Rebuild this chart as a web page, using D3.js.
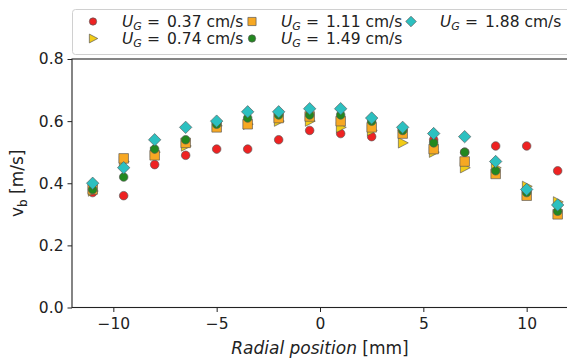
<!DOCTYPE html>
<html><head><meta charset="utf-8">
<script src="https://d3js.org/d3.v7.min.js"></script>
<style>body{margin:0;background:#fff}svg{display:block;font-family:"DejaVu Sans",sans-serif}</style>
</head><body>
<svg id="c" width="567" height="358"></svg>
<script>
const radial = [-11, -9.5, -8, -6.5, -5, -3.5, -2, -0.5, 1, 2.5, 4, 5.5, 7, 8.5, 10, 11.5];
const ug037 = [0.37, 0.36, 0.46, 0.49, 0.51, 0.51, 0.54, 0.57, 0.56, 0.55, 0.57, 0.54, 0.50, 0.52, 0.52, 0.44];
const ug074 = [0.375, 0.47, 0.50, 0.52, 0.585, 0.59, 0.60, 0.60, 0.58, 0.57, 0.53, 0.50, 0.45, 0.45, 0.39, 0.34];
const ug111 = [0.38, 0.48, 0.49, 0.53, 0.58, 0.59, 0.61, 0.615, 0.60, 0.58, 0.56, 0.51, 0.47, 0.43, 0.36, 0.30];
const ug149 = [0.38, 0.42, 0.51, 0.54, 0.59, 0.61, 0.62, 0.62, 0.62, 0.60, 0.57, 0.53, 0.50, 0.44, 0.37, 0.31];
const ug188 = [0.40, 0.45, 0.54, 0.58, 0.60, 0.63, 0.63, 0.64, 0.64, 0.61, 0.58, 0.56, 0.55, 0.47, 0.38, 0.33];
const seriesLabels = ["0.37", "0.74", "1.11", "1.49", "1.88"];
const xTicks = [-10, -5, 0, 5, 10];
const yTicks = [0.0, 0.2, 0.4, 0.6, 0.8];

const series = [
  {label: seriesLabels[0], vals: ug037, shape: "circle", color: "#ee2222"},
  {label: seriesLabels[1], vals: ug074, shape: "triangle", color: "#f2cc17"},
  {label: seriesLabels[2], vals: ug111, shape: "square", color: "#f7a823"},
  {label: seriesLabels[3], vals: ug149, shape: "circle", color: "#22881f"},
  {label: seriesLabels[4], vals: ug188, shape: "diamond", color: "#2cc0c0"}
];

const svg = d3.select("#c");
const L = 72, R = 568, T = 59, B = 307.5;
const x = d3.scaleLinear().domain([-12, 12]).range([L, R]);
const y = d3.scaleLinear().domain([0, 0.8]).range([B, T]);

function shapePath(s) {
  if (s === "circle") return d3.symbol(d3.symbolCircle, 58)();
  if (s === "square") return "M-4.8,-4.8H4.8V4.8H-4.8Z";
  if (s === "diamond") return "M0,-6.2L6.2,0L0,6.2L-6.2,0Z";
  if (s === "triangle") return "M-4.3,-5.2L5.6,0L-4.3,5.2Z";
}

// axes
const gx = svg.append("g").attr("transform", `translate(0,${B})`)
  .call(d3.axisBottom(x).tickValues(xTicks).tickSize(4.5).tickPadding(6)
    .tickFormat(d => d < 0 ? "\u2212" + Math.abs(d) : d));
const gy = svg.append("g").attr("transform", `translate(${L},0)`)
  .call(d3.axisLeft(y).tickValues(yTicks).tickSize(4.5).tickPadding(4).tickFormat(d3.format(".1f")));
[gx, gy].forEach(g => {
  g.select(".domain").remove();
  g.selectAll("line").attr("stroke", "#222").attr("stroke-width", 1);
  g.selectAll("text").attr("font-size", 15.5).attr("fill", "#222").attr("font-family", "DejaVu Sans");
});
// spines
svg.append("rect").attr("x", L).attr("y", T).attr("width", R - L).attr("height", B - T)
  .attr("fill", "none").attr("stroke", "#222").attr("stroke-width", 1.1);

// points
series.forEach(s => {
  svg.append("g").selectAll("path").data(s.vals).join("path")
    .attr("transform", (v, i) => `translate(${x(radial[i])},${y(v)})`)
    .attr("d", shapePath(s.shape))
    .attr("fill", s.color).attr("stroke", "#555").attr("stroke-width", 0.8)
    .attr("stroke-opacity", 0.8);
});

// axis labels
const xl = svg.append("text").attr("x", 320).attr("y", 354).attr("text-anchor", "middle")
  .attr("font-size", 17).attr("fill", "#222");
xl.append("tspan").attr("font-style", "italic").text("Radial position");
xl.append("tspan").text(" [mm]");
const yl = svg.append("text").attr("transform", `translate(23,${(T + B) / 2}) rotate(-90)`)
  .attr("text-anchor", "middle").attr("font-size", 17).attr("fill", "#222");
yl.append("tspan").text("v");
yl.append("tspan").attr("font-size", 12).attr("dy", 3.5).text("b");
yl.append("tspan").attr("dy", -3.5).text(" [m/s]");

// legend
svg.append("rect").attr("x", 72.5).attr("y", 9.5).attr("width", 520).attr("height", 45)
  .attr("rx", 3).attr("fill", "#fff").attr("fill-opacity", 0.9).attr("stroke", "#d0d0d0");
const legPos = [[93, 21.5], [93, 38.5], [252, 21.5], [252, 38.5], [411, 21.5]];
series.forEach((s, i) => {
  const [lx, ly] = legPos[i];
  svg.append("path").attr("transform", `translate(${lx},${ly}) scale(0.85)`)
    .attr("d", shapePath(s.shape)).attr("fill", s.color).attr("stroke", "#555").attr("stroke-width", 0.8);
  const tx = lx + 29;
  const t = svg.append("text").attr("y", ly + 5.5).attr("font-size", 15.5).attr("fill", "#222");
  t.append("tspan").attr("x", tx).attr("font-style", "italic").text("U");
  t.append("tspan").attr("font-style", "italic").attr("font-size", 11).attr("dy", 3).text("G");
  t.append("tspan").attr("x", tx + 25).attr("dy", -3).text("=");
  t.append("tspan").attr("x", tx + 45).text(s.label + " cm/s");
});
</script>
</body></html>
